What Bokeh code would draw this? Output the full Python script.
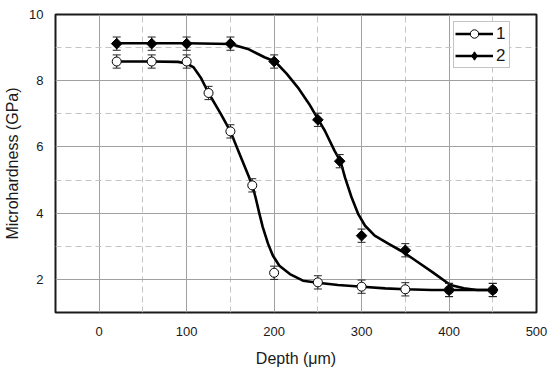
import math
from bokeh.plotting import figure
from bokeh.models import (ColumnDataSource, FixedTicker, Legend, LegendItem, Range1d)
from bokeh.embed import file_html
from bokeh.resources import INLINE

# ---- data ----
depth1 = [20, 60, 100, 125, 150, 175, 200, 250, 300, 350, 400, 450]
hard1 = [8.58, 8.58, 8.58, 7.63, 6.47, 4.84, 2.20, 1.91, 1.78, 1.70, 1.68, 1.68]
err1 = [0.2] * len(depth1)

depth2 = [20, 60, 100, 150, 200, 250, 275, 300, 350, 400, 450]
hard2 = [9.12, 9.12, 9.12, 9.12, 8.58, 6.82, 5.57, 3.32, 2.88, 1.68, 1.68]
err2 = [0.2] * len(depth2)

# fitted curves
fit1_x = [20, 60, 90, 100, 108, 116, 125, 139, 150, 162, 175, 179, 183, 187, 193,
          198.5, 206, 218, 233, 250, 273, 301, 327, 350, 380, 450]
fit1_y = [8.58, 8.58, 8.57, 8.52, 8.40, 8.10, 7.63, 7.00, 6.47, 5.69, 4.85, 4.45,
          4.00, 3.58, 3.08, 2.72, 2.41, 2.16, 1.96, 1.90, 1.83, 1.78, 1.73, 1.70,
          1.68, 1.68]

fit2_x = [20, 100, 150, 170, 189, 201, 214, 227, 240, 250, 258, 269, 276, 281,
          288.5, 296, 304, 315, 331, 346, 360, 381, 401.5, 417, 432, 450]
fit2_y = [9.13, 9.13, 9.11, 8.96, 8.71, 8.58, 8.22, 7.80, 7.30, 6.85, 6.49, 5.89,
          5.56, 5.08, 4.48, 3.98, 3.62, 3.32, 3.07, 2.85, 2.60, 2.22, 1.83, 1.73,
          1.68, 1.68]

x_ticks = [0, 100, 200, 300, 400, 500]
x_minor = [50, 150, 250, 350, 450]
y_ticks = [2, 4, 6, 8, 10]
y_minor = [3, 5, 7, 9]

legend_labels = ["1", "2"]
x_label = "Depth (\u03bcm)"
y_label = "Microhardness (GPa)"

FONT = "Liberation Sans"

p = figure(width=550, height=372, output_backend="svg", toolbar_location=None,
           x_range=Range1d(-50, 500), y_range=Range1d(1, 10),
           min_border_left=55, min_border_right=14, min_border_top=14,
           min_border_bottom=60)
p.background_fill_color = "white"
p.border_fill_color = "white"
p.outline_line_color = "#1a1a1a"
p.outline_line_width = 2

xt = FixedTicker(ticks=x_ticks, minor_ticks=x_minor)
yt = FixedTicker(ticks=y_ticks, minor_ticks=y_minor)
p.xaxis.ticker = xt
p.yaxis.ticker = yt
p.xgrid.ticker = xt
p.ygrid.ticker = yt

for g in (p.xgrid, p.ygrid):
    g.grid_line_color = "#a0a0a0"
    g.grid_line_width = 1
    g.minor_grid_line_color = "#c4c4c4"
    g.minor_grid_line_dash = "6 4"
    g.minor_grid_line_width = 1

for ax in (p.xaxis, p.yaxis):
    ax.axis_line_color = None
    ax.major_tick_line_color = None
    ax.minor_tick_line_color = None
    ax.major_tick_out = 0
    ax.major_tick_in = 0
    ax.minor_tick_out = 0
    ax.minor_tick_in = 0
    ax.major_label_text_font = FONT
    ax.major_label_text_font_size = "13px"
    ax.major_label_text_color = "#1a1a1a"
    ax.axis_label_text_font = FONT
    ax.axis_label_text_font_size = "16px"
    ax.axis_label_text_font_style = "normal"
    ax.axis_label_text_color = "#1a1a1a"

p.xaxis.axis_label = x_label
p.yaxis.axis_label = y_label
p.xaxis.major_label_standoff = 14
p.xaxis.axis_label_standoff = 11
p.yaxis.major_label_standoff = 12
p.yaxis.axis_label_standoff = 5

# fitted curves
l1 = p.line(fit1_x, fit1_y, line_color="black", line_width=2.6, line_join="round")
l2 = p.line(fit2_x, fit2_y, line_color="black", line_width=2.6, line_join="round")

# error bars
for xs, ys, es in ((depth1, hard1, err1), (depth2, hard2, err2)):
    lo = [y - e for y, e in zip(ys, es)]
    hi = [y + e for y, e in zip(ys, es)]
    p.segment(x0=xs, y0=lo, x1=xs, y1=hi, line_color="#222222", line_width=1)
    p.scatter(x=xs + xs, y=lo + hi, marker="dash", size=8,
              line_color="#222222", line_width=1)

# markers
m1 = p.scatter(depth1, hard1, marker="circle", size=9, fill_color="white",
               line_color="black", line_width=1)
# diamond key for the legend (legend glyphs are never rotated); sits hidden
# beneath the rotated-square markers of the same series
m2_key = p.scatter(depth2, hard2, marker="diamond", size=6, fill_color="black",
                   line_color="black", line_width=1)
m2 = p.scatter(depth2, hard2, marker="square", angle=math.pi / 4, size=7.5,
               fill_color="black", line_color="black", line_width=1)

legend = Legend(items=[LegendItem(label=legend_labels[0], renderers=[l1, m1]),
                       LegendItem(label=legend_labels[1], renderers=[l2, m2_key])],
                location=(398, 244))
legend.label_text_font = FONT
legend.label_text_font_size = "17px"
legend.label_text_color = "#1a1a1a"
legend.glyph_width = 38
legend.glyph_height = 21
legend.label_height = 21
legend.label_width = 12
legend.label_standoff = 3
legend.spacing = 1
legend.padding = 1
legend.margin = 0
legend.border_line_color = "#8a8a8a"
legend.border_line_width = 1
legend.background_fill_color = "white"
legend.background_fill_alpha = 1
p.add_layout(legend)

open("out.html", "w").write(file_html(p, INLINE))
